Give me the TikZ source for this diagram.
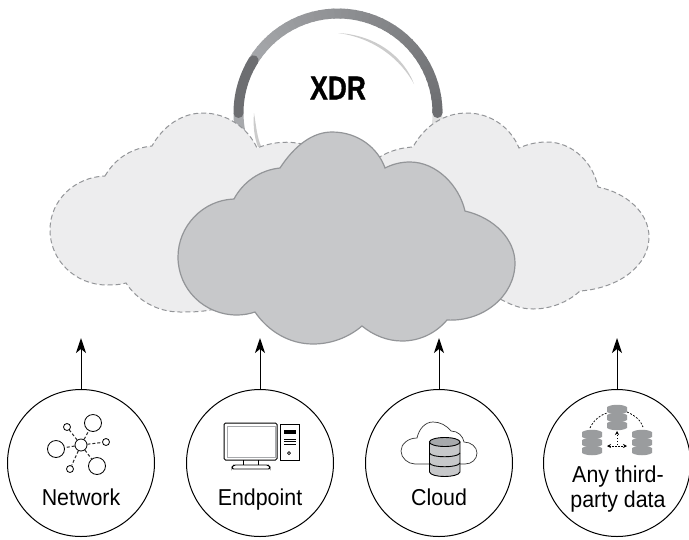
\documentclass[tikz,border=0pt]{standalone}
\usepackage{fontspec}
\setmainfont[FakeStretch=0.93]{Liberation Sans}
\newfontfamily\xdrfont[FakeStretch=0.8,FakeBold=1]{Liberation Sans}
\usetikzlibrary{arrows.meta}
\definecolor{ringdark}{HTML}{6D6E71}
\definecolor{ringlight}{HTML}{A7A9AC}
\definecolor{cloudlight}{HTML}{EDEDEE}
\definecolor{cloudmid}{HTML}{C7C8CA}
\definecolor{cloudedge}{HTML}{939598}
\tikzset{
  srccircle/.style={circle,draw=black,line width=1pt,minimum size=147pt,inner sep=0pt,fill=white},
  srclabel/.style={anchor=base,font=\fontsize{23}{23}\selectfont,inner sep=0pt},
  uparrow/.style={-{Stealth[length=15pt,width=10pt,inset=4pt]},line width=1pt,black},
  netnode/.style={circle,draw=black,line width=.8pt,fill=white,inner sep=0pt},
  netlink/.style={line width=1pt,dash pattern=on 3pt off 2pt,black!85},
  sidecloud/.style={fill=cloudlight,draw=cloudedge,line width=1pt,dash pattern=on 5pt off 3pt},
  ringbar/.style={line width=10pt},
  smallarrow/.style={{Stealth[length=4pt,width=4pt]}-{Stealth[length=4pt,width=4pt]},line width=.6pt,dash pattern=on 1.5pt off 1.5pt}
}
\newcommand{\dbstack}[2]{% centre x, top y of three grey discs
  \foreach \k in {0,1,2}{
    \fill[ringlight!92!black] (#1-10,#2+2+\k*8) -- (#1-10,#2+7+\k*8) .. controls (#1-5,#2+10+\k*8) and (#1+5,#2+10+\k*8) .. (#1+10,#2+7+\k*8) -- (#1+10,#2+2+\k*8) .. controls (#1+5,#2-1+\k*8) and (#1-5,#2-1+\k*8) .. (#1-10,#2+2+\k*8) -- cycle;
  }
}
\begin{document}
\begin{tikzpicture}[x=1pt,y=-1pt]
\useasboundingbox (0,0) rectangle (689,539);
% ring (y axis points down, so angles are negative)
\coordinate (xdrcentre) at (338,113);
\draw[ringbar,ringlight] (xdrcentre) ++(-180:99.5) arc[start angle=-180,end angle=-202,radius=99.5];
\draw[ringbar,black!12] (xdrcentre) ++(0:99.5) arc[start angle=0,end angle=15,radius=99.5];
\foreach \a in {0,-4,...,-148}{
  \pgfmathtruncatemacro\mixval{-100*\a/148}
  \draw[ringbar,ringlight!\mixval!ringdark] (xdrcentre) ++(\a:99.5) arc[start angle=\a,end angle=\a-5,radius=99.5];
}
\draw[ringbar,ringdark,line cap=round] (xdrcentre) ++(-148:99.5) arc[start angle=-148,end angle=-180,radius=99.5];
\draw[ringbar,ringdark,line cap=round] (xdrcentre) ++(-2:99.5) arc[start angle=-2,end angle=0,radius=99.5];
\fill[black!20] (338,33) .. controls (376,35) and (404,57) .. (414,84) .. controls (401,60) and (375,38) .. (338,33) -- cycle;
\fill[black!20] (254,113) .. controls (253,125) and (254,137) .. (258,147) -- (261,146) .. controls (257,137) and (256,125) .. (254,113) -- cycle;
\node[font=\xdrfont\bfseries\fontsize{33}{33}\selectfont,inner sep=0pt] (xdr) at (338,88) {XDR};
% side clouds
\draw[sidecloud]
  (105,176) .. controls (116,157) and (133,148) .. (152,146)
  .. controls (163,126) and (182,113) .. (203,113) .. controls (227,113) and (248,128) .. (257,148)
  .. controls (270,143) and (282,141) .. (297,143) .. controls (310,145) and (320,150) .. (330,165)
  -- (300,300) -- (210,310)
  .. controls (200,312) and (190,312) .. (180,312) .. controls (157,312) and (137,300) .. (126,283)
  .. controls (119,285) and (113,285) .. (107,285) .. controls (75,285) and (50,260) .. (50,230)
  .. controls (50,200) and (75,177) .. (105,176) -- cycle;
\draw[sidecloud]
  (360,175) .. controls (375,155) and (395,148) .. (413,147)
  .. controls (425,125) and (445,113) .. (467,113) .. controls (491,113) and (511,128) .. (519,148)
  .. controls (528,144) and (537,142) .. (547,142) .. controls (572,142) and (593,162) .. (598,187)
  .. controls (627,193) and (649,213) .. (649,237) .. controls (649,265) and (620,288) .. (580,291)
  .. controls (568,302) and (551,309) .. (533,309) .. controls (521,309) and (510,305) .. (495,296)
  -- (400,300) -- cycle;
% main cloud
\draw[fill=cloudmid,draw=cloudedge,line width=1.2pt]
  (280,168) .. controls (295,145) and (313,132) .. (332,132) .. controls (358,132) and (378,148) .. (385,168)
  .. controls (393,164) and (401,162) .. (410,162) .. controls (436,162) and (459,185) .. (465,211)
  .. controls (495,218) and (515,240) .. (515,263) .. controls (515,296) and (483,322) .. (447,320)
  .. controls (436,333) and (420,341) .. (402,341) .. controls (387,341) and (373,335) .. (362,326)
  .. controls (349,337) and (332,344) .. (313,344) .. controls (289,344) and (268,331) .. (255,312)
  .. controls (249,314) and (243,315) .. (237,315) .. controls (204,315) and (178,289) .. (178,257)
  .. controls (178,226) and (203,200) .. (234,199) .. controls (243,182) and (260,170) .. (280,168) -- cycle;
% source circles and arrows
\node[srccircle] (network) at (81,463) {};
\node[srccircle] (endpoint) at (260,463) {};
\node[srccircle] (cloud) at (439,463) {};
\node[srccircle] (thirdparty) at (617,463) {};
\coordinate (networktip) at (81,338);
\coordinate (endpointtip) at (260,338);
\coordinate (cloudtip) at (439,338);
\coordinate (thirdpartytip) at (617,338);
\foreach \s in {network,endpoint,cloud,thirdparty}{
  \draw[uparrow] (\s) -- (\s tip);
}
\node[srclabel] (networklabel) at (81,505) {Network};
\node[srclabel] (endpointlabel) at (260,505) {Endpoint};
\node[srclabel] (cloudlabel) at (439,505) {Cloud};
\node[srclabel] (anylabel) at (618,482) {Any third-};
\node[srclabel] (partylabel) at (618,507) {party data};
% network icon
\node[netnode,minimum size=12pt] (hub) at (81,445) {};
\node[netnode,minimum size=17pt] (bigone) at (93,423) {};
\node[netnode,minimum size=17pt] (bigtwo) at (56,449) {};
\node[netnode,minimum size=17pt] (bigthree) at (97,466) {};
\node[netnode,minimum size=7pt] (smallone) at (67,427) {};
\node[netnode,minimum size=7pt] (smalltwo) at (106,442) {};
\node[netnode,minimum size=7pt] (smallthree) at (70,469) {};
\foreach \n in {bigone,bigtwo,bigthree,smallone,smalltwo,smallthree}{
  \draw[netlink] (hub) -- (\n);
}
% endpoint icon
\draw[line width=1pt,rounded corners=1.5pt] (224,423) rectangle (277,460);
\draw[ringlight,line width=.8pt] (227,426) rectangle (275,457);
\draw[line width=.8pt] (243,460) -- (243,465) (258,460) -- (258,465);
\draw[line width=.8pt,rounded corners=1.5pt] (232,469) -- (232,467) -- (234,465) -- (268,465) -- (270,467) -- (270,469) -- cycle;
\draw[line width=.8pt] (280,424) rectangle (299,460);
\fill (284,430) rectangle (296,434);
\draw[line width=.6pt] (284,439) -- (296,439) (284,441.5) -- (296,441.5) (284,444) -- (296,444);
\draw[line width=.7pt] (289,453) circle[radius=1.5];
% cloud icon
\draw[line width=.7pt,black!80] (465,464) .. controls (472,464) and (477,459) .. (477,453) .. controls (477,447) and (471,442) .. (464,442)
  .. controls (463,436) and (458,431) .. (451,431) .. controls (446,425) and (440,422) .. (433,422)
  .. controls (425,422) and (419,429) .. (417,438) .. controls (408,438) and (401,444) .. (401,451)
  .. controls (401,458) and (408,464) .. (415,464) -- (465,464);
\draw[fill=cloudmid,line width=.9pt] (429.5,442) -- (429.5,472) .. controls (431,478) and (458,478) .. (460,472) -- (460,442) -- cycle;
\draw[fill=ringlight,line width=.9pt] (444.7,442) ellipse[x radius=15.3,y radius=4.5];
\draw[line width=.9pt] (429.5,453) .. controls (431,458) and (458,458) .. (460,453);
\draw[line width=.9pt] (429.5,463) .. controls (431,468) and (458,468) .. (460,463);
% third party icon
\dbstack{617}{405}
\dbstack{592}{430}
\dbstack{642}{430}
\draw[line width=.7pt,dash pattern=on 2pt off 1.5pt] (590,428) .. controls (593,421) and (600,415) .. (607,413);
\draw[line width=.7pt,dash pattern=on 2pt off 1.5pt] (627,412) .. controls (634,415) and (641,420) .. (643,427);
\draw[smallarrow] (607,446) -- (627,446);
\draw[line width=.6pt,dash pattern=on 1.5pt off 1.5pt,-{Stealth[length=4pt,width=4pt]}] (617,445) -- (617,431);
\end{tikzpicture}
\end{document}
